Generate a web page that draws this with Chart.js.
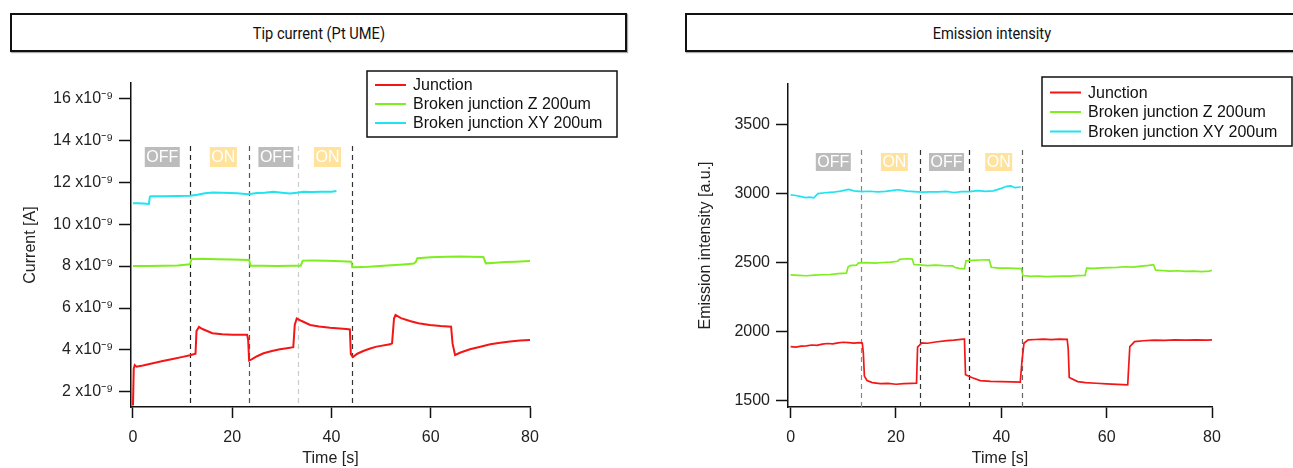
<!DOCTYPE html>
<html>
<head>
<meta charset="utf-8">
<script src="https://cdn.jsdelivr.net/npm/chart.js@4/dist/chart.umd.min.js"></script>
<style>
  body { margin: 0; width: 1293px; height: 468px; background: #fff; position: relative; overflow: hidden; }
  .panel-title {
    position: absolute; top: 13px; height: 35px; border: 2px solid #111;
    box-shadow: 1px 1px 1px #aaa;
    display: flex; align-items: center; justify-content: center;
    font-family: "Liberation Sans Narrow", "Roboto", sans-serif; font-size: 17px; color: #111;
  }
  .panel-title span { display: inline-block; transform: scaleX(0.86); }
  canvas { position: absolute; top: 60px; }
</style>
</head>
<body>
<div class="panel-title" style="left:10px; width:613px;"><span>Tip current (Pt UME)</span></div>
<div class="panel-title" style="left:685px; width:610px;"><span>Emission intensity</span></div>
<canvas id="tipChart" width="640" height="408" style="left:0px"></canvas>
<canvas id="emiChart" width="633" height="408" style="left:660px"></canvas>
<script>
const timeTicks = [0, 20, 40, 60, 80];
const currentTicks = [2, 4, 6, 8, 10, 12, 14, 16]; // in units of 1e-9 A
const emissionTicks = [1500, 2000, 2500, 3000, 3500];

const seriesNames = ["Junction", "Broken junction Z 200um", "Broken junction XY 200um"];
const seriesColors = ["#f41616", "#7dee1e", "#1fe4f0"];

// tip current (nA) vs time (s)
const tipJunctionT = [0, 0.15, 0.35, 0.7, 2, 4, 6, 8, 10, 11.5, 12.6, 12.8, 13.3, 14, 16, 18, 20, 23, 23.2, 23.4,
  23.9, 25, 26.3, 28, 29.6, 31, 32.3, 32.6, 33, 34, 35.7, 37.5, 39.7, 43, 43.7, 43.9, 44.3, 45.2, 46.4, 47.8,
  49.1, 51.8, 52.2, 52.6, 52.9, 54, 55.8, 57.5, 59.8, 62, 64.1, 64.4, 64.9, 66, 67.9, 70, 72, 74, 76, 78, 80];
const tipJunction = [1.35, 3.1, 3.28, 3.2, 3.26, 3.37, 3.47, 3.57, 3.67, 3.75, 3.82, 4.9, 5.1, 5.0, 4.8, 4.75, 4.73, 4.72, 4.5, 3.5,
  3.55, 3.7, 3.84, 3.95, 4.03, 4.08, 4.13, 5.2, 5.5, 5.38, 5.19, 5.12, 5.06, 5.0, 4.98, 3.8, 3.66, 3.82, 3.95, 4.07,
  4.16, 4.27, 4.32, 5.5, 5.67, 5.52, 5.38, 5.27, 5.19, 5.14, 5.11, 4.3, 3.76, 3.88, 4.03, 4.15, 4.27, 4.34, 4.4, 4.45, 4.48];

const tipZT = [0, 3, 6, 9, 11.1, 11.5, 11.8, 14, 17, 20, 23.4, 23.7, 26, 29, 32, 33.8, 34.2, 36, 39, 42,
  44.0, 44.2, 46.4, 49, 52, 54.5, 56.6, 57.0, 57.3, 60, 63.2, 66, 68, 70.6, 71.1, 73, 75, 77, 80];
const tipZ = [8.0, 8.0, 8.01, 8.03, 8.07, 8.1, 8.34, 8.35, 8.33, 8.31, 8.29, 8.02, 8.01, 8.0, 8.01, 8.02, 8.26, 8.27, 8.25, 8.23,
  8.21, 7.94, 7.95, 7.99, 8.04, 8.08, 8.12, 8.2, 8.37, 8.42, 8.45, 8.46, 8.45, 8.43, 8.13, 8.16, 8.19, 8.21, 8.24];

const tipXYT = [0, 1, 2, 3.2, 3.4, 3.6, 6, 9, 11.5, 13, 14.5, 16.1, 18, 19.5, 21, 23.2, 25, 26.5, 28.3, 30,
  31.6, 33, 34.3, 36, 38, 40, 41];
const tipXY = [11.0, 11.0, 10.98, 10.96, 11.3, 11.33, 11.33, 11.34, 11.35, 11.4, 11.47, 11.51, 11.5, 11.49, 11.47, 11.43, 11.48, 11.5, 11.54, 11.5,
  11.46, 11.5, 11.54, 11.53, 11.55, 11.55, 11.58];

// emission intensity (a.u.) vs time (s)
const emiJunctionT = [0, 1, 2, 3, 4, 5, 6, 7, 8, 9, 10, 11, 12, 13, 13.6, 13.8, 14.0, 14.5, 15.5, 17,
  18.5, 20, 21.5, 23, 23.9, 24.1, 24.9, 26, 27.5, 29.7, 31, 32.8, 33.0, 33.2, 34.5, 36, 38, 40, 42, 43.6,
  43.9, 44.3, 45.1, 46.5, 48, 49.5, 51, 52.5, 52.7, 52.9, 54.5, 56, 58, 60, 62, 64, 64.2, 64.4, 65.3, 67,
  69, 71, 73, 75, 77, 79, 80];
const emiJunction = [1893, 1890, 1897, 1899, 1905, 1903, 1912, 1916, 1913, 1920, 1925, 1922, 1919, 1923, 1920, 1850, 1680, 1648, 1633, 1625,
  1627, 1621, 1625, 1627, 1628, 1890, 1920, 1918, 1927, 1937, 1940, 1948, 1948, 1690, 1668, 1647, 1642, 1640, 1638, 1636,
  1780, 1918, 1942, 1945, 1948, 1944, 1947, 1946, 1880, 1670, 1640, 1632, 1628, 1624, 1620, 1616, 1760, 1894, 1930, 1936,
  1940, 1938, 1942, 1941, 1943, 1940, 1942];

const emiZT = [0, 1.5, 3, 4.5, 6, 7.5, 9, 10.6, 10.9, 11.3, 12.5, 12.9, 14.5, 16, 17.5, 19, 20.3, 20.7, 22, 23.1,
  23.4, 24.5, 26, 27.5, 29, 30.8, 31.1, 32, 33.0, 33.3, 34.5, 36, 37.7, 38.1, 39.5, 41, 42.5, 43.8, 44.1, 45.5,
  47, 48.5, 50, 51.5, 53, 54.5, 55.9, 56.2, 57.5, 59, 60.5, 62, 63.5, 65, 66.5, 68, 68.9, 69.3, 70.5, 72,
  73.5, 75, 76.5, 78, 79.5, 80];
const emiZ = [2413, 2410, 2407, 2411, 2414, 2416, 2422, 2426, 2470, 2480, 2484, 2500, 2502, 2498, 2503, 2505, 2512, 2526, 2530, 2528,
  2488, 2485, 2480, 2484, 2480, 2478, 2468, 2460, 2457, 2515, 2518, 2521, 2522, 2468, 2462, 2463, 2460, 2458, 2408, 2402,
  2405, 2400, 2403, 2405, 2404, 2408, 2410, 2462, 2460, 2464, 2466, 2468, 2472, 2470, 2476, 2482, 2487, 2448, 2445, 2441,
  2443, 2438, 2440, 2437, 2441, 2447];

const emiXYT = [0, 1, 2, 2.8, 3.6, 4.4, 5.2, 6.5, 8, 9.5, 11, 12, 13.5, 15, 16.5, 18, 19.5, 20.5, 22, 23.5,
  25, 26.5, 28, 29.5, 31, 32.5, 34, 35.5, 37, 38.5, 40, 41, 41.8, 42.6, 43.7];
const emiXY = [2993, 2988, 2980, 2973, 2976, 2972, 3002, 3008, 3012, 3020, 3032, 3022, 3016, 3019, 3014, 3018, 3026, 3030, 3020, 3016,
  3012, 3015, 3014, 3018, 3010, 3016, 3016, 3024, 3018, 3022, 3040, 3055, 3058, 3045, 3050];

// light switching: dashed markers and OFF/ON tags
const stateLabels = ["OFF", "ON", "OFF", "ON"];
const tipSwitchTimes = [11.5, 23.4, 33.2, 44.1];
const tipLabelTimes = [5.9, 18.2, 28.8, 39.2];
const emiSwitchTimes = [13.45, 24.5, 33.8, 44.0];
const emiLabelTimes = [8.1, 19.7, 29.6, 39.5];

const FONT = "'Liberation Sans', Arial, sans-serif";

const pts = (t, v) => t.map((x, i) => ({ x, y: v[i] }));

const switchMarks = {
  id: "switchMarks",
  beforeDatasetsDraw(chart, args, o) {
    const { ctx, chartArea, scales: { x } } = chart;
    ctx.save();
    ctx.lineWidth = 1.2;
    ctx.setLineDash([5, 4]);
    o.times.forEach((t, i) => {
      const px = Math.round(x.getPixelForValue(t)) + 0.5;
      ctx.strokeStyle = o.colors[i];
      ctx.beginPath();
      ctx.moveTo(px, o.top);
      ctx.lineTo(px, chartArea.bottom);
      ctx.stroke();
    });
    ctx.restore();
  },
  afterDatasetsDraw(chart, args, o) {
    const { ctx, scales: { x } } = chart;
    ctx.save();
    ctx.font = "16px " + FONT;
    ctx.textAlign = "center";
    ctx.textBaseline = "middle";
    stateLabels.forEach((s, i) => {
      const cx = x.getPixelForValue(o.labelTimes[i]);
      const w = ctx.measureText(s).width + 3;
      ctx.fillStyle = s === "ON" ? "#ffe29c" : "#bcbcbc";
      ctx.fillRect(cx - w / 2, o.labelTop, w, o.labelHeight);
      ctx.fillStyle = "#fff";
      ctx.fillText(s, cx, o.labelTop + o.labelHeight / 2 + 1);
    });
    ctx.restore();
  }
};

const boxLegend = {
  id: "boxLegend",
  afterDraw(chart, args, o) {
    const { ctx } = chart;
    ctx.save();
    ctx.fillStyle = "#fff";
    ctx.fillRect(o.x, o.y, o.w, o.h);
    ctx.lineWidth = 1.5;
    ctx.strokeStyle = "#111";
    ctx.strokeRect(o.x, o.y, o.w, o.h);
    ctx.font = "16px " + FONT;
    ctx.textBaseline = "middle";
    chart.data.datasets.forEach((ds, i) => {
      const y = o.y + o.first + i * o.step;
      ctx.strokeStyle = ds.borderColor;
      ctx.lineWidth = 2;
      ctx.beginPath();
      ctx.moveTo(o.x + 8, y);
      ctx.lineTo(o.x + 39, y);
      ctx.stroke();
      ctx.fillStyle = "#111";
      ctx.fillText(ds.label, o.x + 46, y + 1);
    });
    ctx.restore();
  }
};

function makePanel(id, p) {
  return new Chart(document.getElementById(id), {
    type: "line",
    data: {
      datasets: p.series.map((s, i) => ({
        label: seriesNames[i],
        data: s,
        borderColor: seriesColors[i],
        borderWidth: p.lineWidth,
        pointRadius: 0,
        tension: 0
      }))
    },
    options: {
      responsive: false,
      animation: false,
      layout: { padding: p.padding },
      scales: {
        x: {
          type: "linear",
          min: p.xMin,
          max: 80,
          afterBuildTicks: s => { s.ticks = timeTicks.map(v => ({ value: v })); },
          afterFit: s => { s.height = 61; },
          ticks: { autoSkip: false, padding: 10, color: "#222", font: { family: FONT, size: 16 } },
          grid: { drawOnChartArea: false, tickLength: 11, tickColor: "#111", tickWidth: 1.5 },
          border: { color: "#111", width: 1.5 },
          title: { display: true, text: "Time [s]", color: "#222", font: { family: FONT, size: 16 }, padding: { top: 0, bottom: 0 } }
        },
        y: {
          min: p.yMin,
          max: p.yMax,
          afterBuildTicks: s => { s.ticks = p.yTicks.map(v => ({ value: v })); },
          afterFit: s => { s.width = p.yWidth; },
          ticks: { autoSkip: false, padding: 6, color: "#222", font: { family: FONT, size: 16 }, callback: p.tickText },
          grid: { drawOnChartArea: false, tickLength: 12, tickColor: "#111", tickWidth: 1.5 },
          border: { color: "#111", width: 1.5 },
          title: { display: true, text: p.yTitle, color: "#222", font: { family: FONT, size: 16 }, padding: { top: 4, bottom: 0 } }
        }
      },
      plugins: {
        legend: { display: false },
        tooltip: { enabled: false },
        switchMarks: p.marks,
        boxLegend: p.legend
      }
    },
    plugins: [switchMarks, boxLegend]
  });
}

makePanel("tipChart", {
  series: [pts(tipJunctionT, tipJunction), pts(tipZT, tipZ), pts(tipXYT, tipXY)],
  lineWidth: 2,
  padding: { left: 17, right: 110, top: 23, bottom: 0 },
  xMin: -0.4,
  yMin: 1.28,
  yMax: 16.73,
  yTicks: currentTicks,
  yWidth: 114,
  yTitle: "Current [A]",
  tickText: v => v + " x10\u207B\u2079",
  marks: { times: tipSwitchTimes, colors: ["#222", "#555", "#ccc", "#333"], top: 86, labelTimes: tipLabelTimes, labelTop: 87, labelHeight: 20 },
  legend: { x: 367, y: 11, w: 250, h: 66, first: 14, step: 19 }
});

makePanel("emiChart", {
  series: [pts(emiJunctionT, emiJunction), pts(emiZT, emiZ), pts(emiXYT, emiXY)],
  lineWidth: 1.7,
  padding: { left: 32, right: 81, top: 24, bottom: 0 },
  xMin: -0.5,
  yMin: 1456,
  yMax: 3796,
  yTicks: emissionTicks,
  yWidth: 96,
  yTitle: "Emission intensity [a.u.]",
  tickText: v => String(v),
  marks: { times: emiSwitchTimes, colors: ["#888", "#333", "#222", "#666"], top: 90, labelTimes: emiLabelTimes, labelTop: 93, labelHeight: 18 },
  legend: { x: 382, y: 17, w: 250, h: 69, first: 15.5, step: 19.5 }
});
</script>
</body>
</html>
